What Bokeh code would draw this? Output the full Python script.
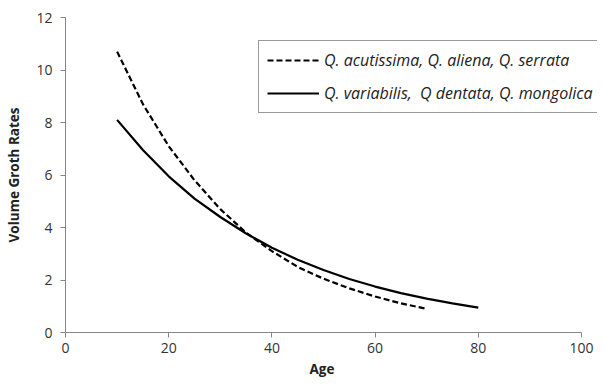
from bokeh.plotting import figure
from bokeh.models import Legend, LegendItem, FixedTicker, Range1d, Title
from bokeh.embed import file_html
from bokeh.resources import INLINE

# Data
age_a = [10, 15, 20, 25, 30, 35, 40, 45, 50, 55, 60, 65, 70]
rate_a = [10.7, 8.7, 7.1, 5.8, 4.7, 3.8, 3.1, 2.5, 2.05, 1.68, 1.37, 1.11, 0.9]
age_b = [10, 15, 20, 25, 30, 35, 40, 45, 50, 55, 60, 65, 70, 75, 80]
rate_b = [8.1, 6.95, 5.95, 5.1, 4.4, 3.77, 3.23, 2.77, 2.38, 2.04, 1.75, 1.5, 1.29, 1.11, 0.95]
label_a = "Q. acutissima, Q. aliena, Q. serrata"
label_b = "Q. variabilis,  Q dentata, Q. mongolica"
x_ticks = [0, 20, 40, 60, 80, 100]
y_ticks = [0, 2, 4, 6, 8, 10, 12]

FONT = "Open Sans"
AXIS_COLOR = "#868686"

# frame extends a little past x=100 so the legend box can overhang it, as in the original;
# the visible axis line stops at 100
p = figure(width=605, height=385, output_backend="svg", toolbar_location=None,
           x_range=Range1d(0, 103.1), y_range=Range1d(0, 12),
           min_border_left=65, min_border_right=8, min_border_top=17, min_border_bottom=53)
p.outline_line_color = None
p.xgrid.grid_line_color = None
p.ygrid.grid_line_color = None

r1 = p.line(age_a, rate_a, line_color="black", line_width=2.2, line_dash="6 3")
r2 = p.line(age_b, rate_b, line_color="black", line_width=2.2)

for ax, ticks in ((p.xaxis[0], x_ticks), (p.yaxis[0], y_ticks)):
    ax.ticker = FixedTicker(ticks=ticks)
    ax.axis_line_color = AXIS_COLOR
    ax.major_tick_line_color = AXIS_COLOR
    ax.major_tick_out = 5
    ax.major_tick_in = 0
    ax.minor_tick_line_color = None
    ax.major_label_text_font = FONT
    ax.major_label_text_font_size = "14px"
    ax.major_label_text_color = "#333333"
    ax.axis_label_text_font = FONT
    ax.axis_label_text_font_size = "13.5px"
    ax.axis_label_text_font_style = "bold"
    ax.axis_label_text_color = "#222222"

p.xaxis.bounds = (0, 100)
p.yaxis.axis_label = "Volume Groth Rates"
p.xaxis.major_label_standoff = 5
p.yaxis.major_label_standoff = 8
p.yaxis.axis_label_standoff = 10

# x-axis title centred under the 0-100 axis (not under the wider frame)
x_title = Title(text="Age", align="left", offset=244, standoff=5,
                text_font=FONT, text_font_size="13.5px", text_font_style="bold",
                text_color="#222222")
p.add_layout(x_title, "below")

legend = Legend(items=[LegendItem(label=label_a, renderers=[r1]),
                       LegendItem(label=label_b, renderers=[r2])],
                location=(193, 219), margin=0, padding=8, spacing=11,
                glyph_width=52, glyph_height=18, label_height=18, label_standoff=5,
                label_text_font=FONT, label_text_font_size="16px",
                label_text_font_style="italic", label_text_color="#222222",
                border_line_color="#333333", border_line_width=1,
                background_fill_color="white", background_fill_alpha=1)
p.add_layout(legend)

open("out.html", "w").write(file_html(p, INLINE))
